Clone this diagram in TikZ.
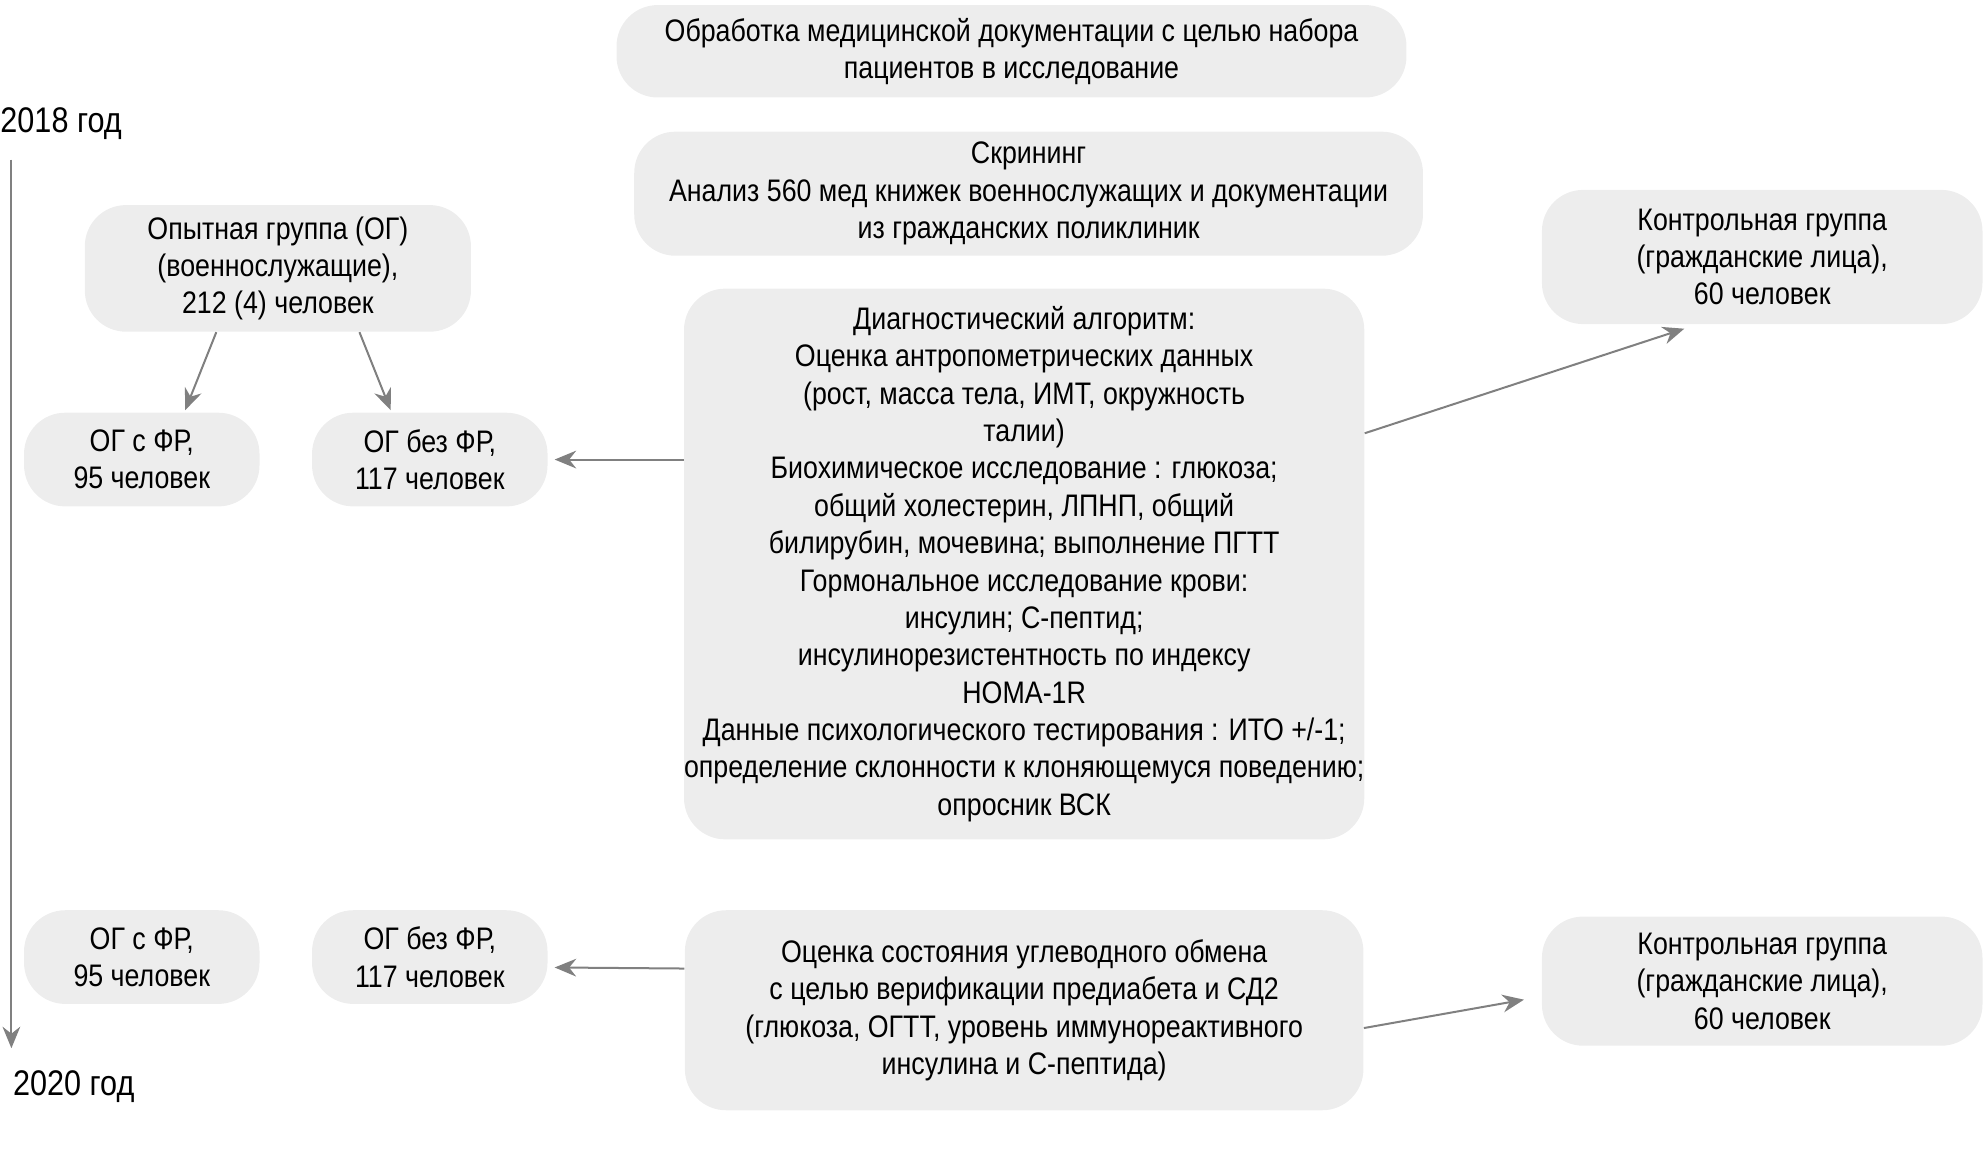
\documentclass[tikz,border=0pt]{standalone}
\usepackage{fontspec}
\setmainfont{Liberation Sans}[FakeStretch=0.86]
\usetikzlibrary{positioning, arrows.meta}
\definecolor{boxgray}{HTML}{EDEDED}
\definecolor{arrowgray}{HTML}{808080}

\begin{document}
\begin{tikzpicture}[node distance=4.55cm, on grid,
    box/.style={fill=boxgray, rounded corners=0.65cm, align=center, inner sep=0pt,
        font=\fontsize{14}{16.8}\selectfont},
    small/.style={box, minimum width=3.72cm, minimum height=1.48cm},
    group/.style={box, minimum width=6.96cm},
    year/.style={anchor=west, inner sep=0pt, font=\fontsize{16}{19}\selectfont},
    arr/.style={-{Stealth[length=0.34cm, width=0.28cm]}, draw=arrowgray, line width=0.9pt}]
    \useasboundingbox (0,0) rectangle (31.36,-18.26);

    % Timeline
    \node[year] (y18) at (0,-1.96) {2018 год};
    \node[year] (y20) at (0.2,-17.16) {2020 год};
    \coordinate (t0) at (0.18,-2.52);
    \coordinate (t1) at (0.18,-16.56);
    \draw[arr] (t0) -- (t1);

    % Selection and screening
    \node[box, minimum width=12.48cm, minimum height=1.46cm] (docs) at (15.98,-0.81)
        {Обработка медицинской документации с целью набора\\пациентов в исследование};
    \node[box, minimum width=12.46cm, minimum height=1.96cm] (scr) at (16.25,-3.06)
        {Скрининг\\Анализ 560 мед книжек военнослужащих и документации\\из гражданских поликлиник};

    % Groups, 2018
    \node[box, minimum width=6.1cm, minimum height=2cm] (og) at (4.39,-4.24)
        {Опытная группа (ОГ)\\(военнослужащие),\\212 (4) человек};
    \node[group, minimum height=2.12cm] (ctrl) at (27.84,-4.06)
        {Контрольная группа\\(гражданские лица),\\60 человек};
    \node[small] (ogfr) at (2.24,-7.26) {ОГ с ФР,\\95 человек};
    \node[small, right=of ogfr] (ogbf) {ОГ без ФР,\\117 человек};

    \node[box, minimum width=10.72cm, minimum height=8.7cm] (diag) at (16.18,-8.91)
        {Диагностический алгоритм:\\Оценка антропометрических данных\\(рост, масса тела, ИМТ, окружность\\талии)\\
        Биохимическое исследование : глюкоза;\\общий холестерин, ЛПНП, общий\\билирубин, мочевина; выполнение ПГТТ\\
        Гормональное исследование крови:\\инсулин; С-пептид;\\инсулинорезистентность по индексу\\HOMA-1R\\
        Данные психологического тестирования : ИТО +/-1;\\определение склонности к клоняющемуся поведению;\\опросник ВСК};

    % Groups, 2020
    \node[small] (ogfr2) at (2.24,-15.12) {ОГ с ФР,\\95 человек};
    \node[small, right=of ogfr2] (ogbf2) {ОГ без ФР,\\117 человек};
    \node[box, minimum width=10.72cm, minimum height=3.16cm] (carb) at (16.18,-15.96)
        {Оценка состояния углеводного обмена\\с целью верификации предиабета и СД2\\(глюкоза, ОГТТ, уровень иммунореактивного\\инсулина и С-пептида)};
    \node[group, minimum height=2.04cm] (ctrl2) at (27.84,-15.5)
        {Контрольная группа\\(гражданские лица),\\60 человек};

    \path
        % split of the experimental group
        (og.-134) edge[arr, shorten >=1pt] (ogfr.48)
        (og.-38) edge[arr, shorten >=1pt] (ogbf.129)
        % from the algorithm
        (diag.west |- ogbf.east) edge[arr, shorten >=3pt] (ogbf.east)
        (diag.21.9) edge[arr, shorten >=6pt] (ctrl.-134)
        % from the follow-up
        (carb.173) edge[arr, shorten >=3pt] (ogbf2.-5.6)
        (carb.-3.4) edge[arr, shorten >=8pt] (ctrl2.184);
\end{tikzpicture}
\end{document}
